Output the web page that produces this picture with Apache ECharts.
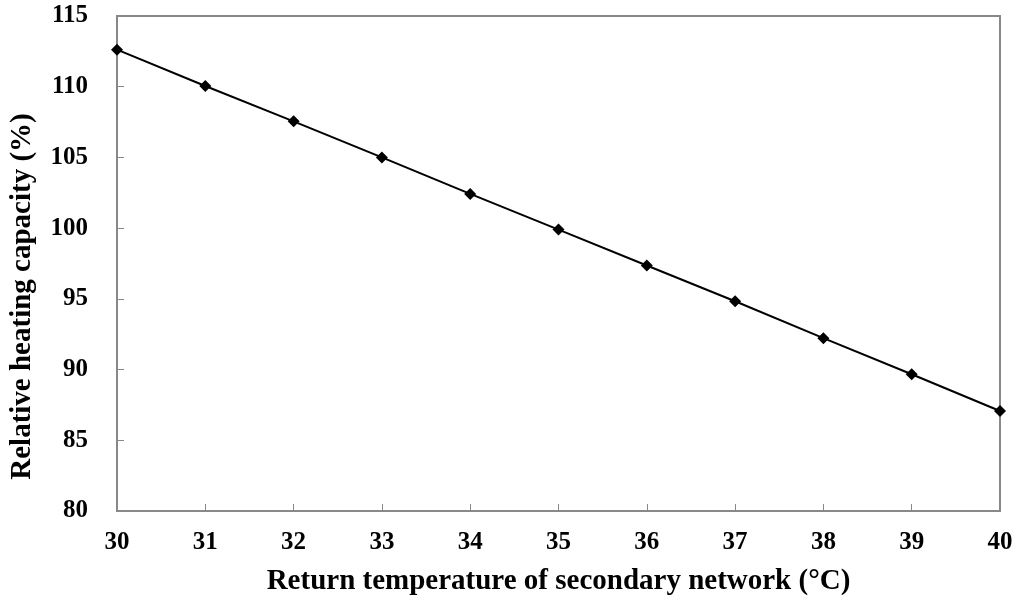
<!DOCTYPE html>
<html>
<head>
<meta charset="utf-8" />
<title></title>
<script type="text/javascript" src="https://cdn.jsdelivr.net/npm/echarts@6/dist/echarts.min.js"></script>
<style>
  html, body { margin: 0; padding: 0; background: #fff; }
</style>
</head>
<body>
<div id="main" style="width: 1018px;height: 601px;"></div>
<script type="text/javascript">
// return temperature (°C) and relative heating capacity (%)
var temps = [30, 31, 32, 33, 34, 35, 36, 37, 38, 39, 40];
var capacity = [112.62, 110.05, 107.55, 105.0, 102.42, 99.9, 97.36, 94.83, 92.22, 89.67, 87.07];

var points = [];
for (var i = 0; i < temps.length; i++) {
    points.push([temps[i], capacity[i]]);
}

var font = '"Times New Roman", "Liberation Serif", serif';
var axisGray = '#898989';

var chart = echarts.init(document.getElementById('main'));
var option = {
    backgroundColor: '#fff',
    animation: false,
    grid: {
        left: 117,
        right: 18,
        top: 16,
        bottom: 90,
        outerBoundsMode: 'none',
        containLabel: false,
        show: true,
        borderColor: axisGray,
        borderWidth: 2
    },
    xAxis: {
        type: 'value',
        min: 30,
        max: 40,
        interval: 1,
        name: 'Return temperature of secondary network (°C)',
        nameLocation: 'middle',
        nameGap: 56,
        nameTextStyle: { fontFamily: font, fontWeight: 'bold', fontSize: 29, color: '#000' },
        axisLine: { lineStyle: { color: axisGray, width: 2 } },
        axisTick: { inside: true, length: 7, lineStyle: { color: axisGray, width: 1 } },
        axisLabel: { margin: 19, fontFamily: font, fontWeight: 'bold', fontSize: 25, color: '#000' },
        splitLine: { show: false }
    },
    yAxis: {
        type: 'value',
        min: 80,
        max: 115,
        interval: 5,
        name: 'Relative heating capacity (%)',
        nameLocation: 'middle',
        nameGap: 80,
        nameTextStyle: { fontFamily: font, fontWeight: 'bold', fontSize: 29, color: '#000', padding: [0, 66, 0, 0] },
        axisLine: { lineStyle: { color: axisGray, width: 2 } },
        axisTick: { inside: true, length: 7, lineStyle: { color: axisGray, width: 1 } },
        axisLabel: { margin: 29, fontFamily: font, fontWeight: 'bold', fontSize: 25, color: '#000' },
        splitLine: { show: false }
    },
    series: [{
        type: 'line',
        data: points,
        symbol: 'diamond',
        symbolSize: 12,
        showAllSymbol: true,
        lineStyle: { color: '#000', width: 2 },
        itemStyle: { color: '#000' }
    }]
};
chart.setOption(option);
</script>
</body>
</html>
